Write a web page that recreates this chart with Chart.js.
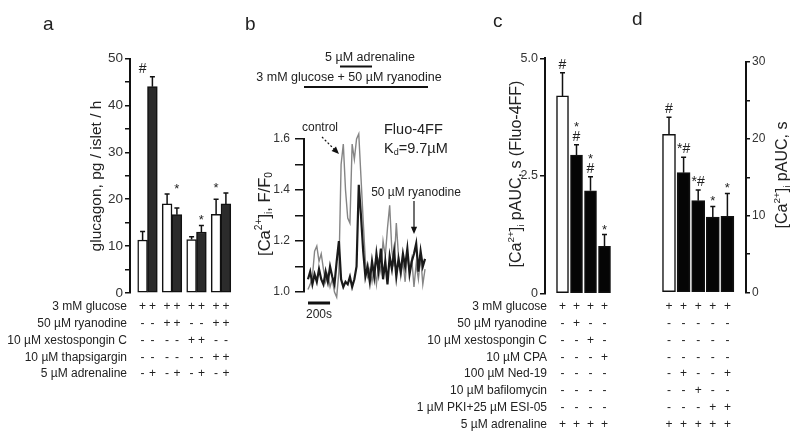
<!DOCTYPE html>
<html>
<head>
<meta charset="utf-8">
<script src="https://cdn.jsdelivr.net/npm/chart.js@4.4.1/dist/chart.umd.min.js"></script>
<style>
  body { margin: 0; background: #fff; }
  #wrap { position: relative; width: 800px; height: 440px; font-family: "Liberation Sans", Arial, sans-serif; }
  canvas { position: absolute; left: 0; top: 0; }
  .lbl { position: absolute; font-size: 19px; line-height: 1; color: #222; }
</style>
</head>
<body>
<div id="wrap">
  <canvas id="chartA" width="800" height="440"></canvas>
  <canvas id="chartB" width="800" height="440"></canvas>
  <canvas id="chartC" width="800" height="440"></canvas>
  <canvas id="chartD" width="800" height="440"></canvas>
  <span class="lbl" style="left:43px;top:14px">a</span>
  <span class="lbl" style="left:245px;top:14px">b</span>
  <span class="lbl" style="left:493px;top:11px">c</span>
  <span class="lbl" style="left:632px;top:9px">d</span>
</div>
<script>
// ---- data ----
// panel a: glucagon secretion, pairs of bars (white = no adrenaline, black = adrenaline)
const aWhite = [11.3, 19.0, 11.4, 16.8];
const aWhiteErr = [1.8, 2.1, 0.6, 3.2];
const aBlack = [44.0, 16.7, 13.0, 19.0];
const aBlackErr = [2.1, 1.4, 1.4, 2.3];
const aWhiteMarks = ['#', '', '', '*'];
const aBlackMarks = ['', '*', '*', ''];
const aRows = ['3 mM glucose', '50 µM ryanodine', '10 µM xestospongin C', '10 µM thapsigargin', '5 µM adrenaline'];
const aSigns = ['++++++++', '--++--++', '----++--', '------++', '-+-+-+-+'];

// panel b: [Ca2+]i traces
const bTime = [0, 20, 40, 60, 80, 100, 120, 140, 160, 180, 200, 220, 240, 260, 280, 300, 320, 340, 360, 380,
  400, 420, 440, 460, 480, 500, 520, 540, 560, 580, 600, 620, 640, 660, 680, 700, 720, 740, 760, 780,
  800, 820, 840, 860, 880, 900, 920, 940, 960, 980, 1000, 1020, 1040, 1060];
const bControl = [1.01, 1.03, 1.06, 1.16, 1.18, 1.12, 1.15, 1.09, 1.04, 1.07, 1.02, 1.05, 1.00, 0.98, 1.08, 1.50, 1.58, 1.40, 1.29, 1.27,
  1.58, 1.52, 1.60, 1.62, 1.45, 1.28, 1.12, 1.06, 1.09, 1.04, 1.10, 1.03, 1.12, 1.08, 1.20, 1.14, 1.25, 1.34, 1.16, 1.10,
  1.27, 1.14, 1.06, 1.12, 1.04, 1.15, 1.08, 1.13, 1.02, 1.11, 1.05, 1.14, 1.03, 1.09];
const bRyanodine = [1.05, 1.08, 1.03, 1.07, 1.04, 1.09, 1.05, 1.03, 1.08, 1.04, 1.10, 1.06, 1.03, 1.12, 1.20, 1.05, 1.02, 1.04, 1.03, 1.06,
  1.02, 1.05, 1.10, 1.42, 1.30, 1.16, 1.06, 1.10, 1.04, 1.12, 1.06, 1.15, 1.08, 1.17, 1.05, 1.12, 1.03, 1.14, 1.09, 1.16,
  1.06, 1.13, 1.08, 1.15, 1.10, 1.17, 1.07, 1.12, 1.15, 1.19, 1.08, 1.16, 1.10, 1.13];
const bAdrenaline = [290, 580];
const bScaleBar = [0, 200];

// panels c and d: pAUC
const cValues = [4.2, 2.94, 2.18, 1.0];
const cErr = [0.49, 0.22, 0.30, 0.25];
const cMarks = ['#', '*#', '*#', '*'];
const cdRows = ['3 mM glucose', '50 µM ryanodine', '10 µM xestospongin C', '10 µM CPA', '100 µM Ned-19',
  '10 µM bafilomycin', '1 µM PKI+25 µM ESI-05', '5 µM adrenaline'];
const cSigns = ['++++', '-+--', '--+-', '---+', '----', '----', '----', '++++'];

const dValues = [20.6, 15.6, 11.95, 9.8, 9.9];
const dErr = [2.2, 2.0, 1.4, 1.4, 3.0];
const dMarks = ['#', '*#', '*#', '*', '*'];
const dSigns = ['+++++', '-----', '-----', '-----', '-+--+', '--+--', '---++', '+++++'];

// ---- helpers ----
const INK = '#111';
const FONT = '"Liberation Sans", Arial, sans-serif';
const CA = [['[Ca'], ['2+', 'sup'], [']'], ['i', 'sub']];

function rich(ctx, x, y, parts, size, rot) {
  ctx.save();
  ctx.translate(x, y);
  ctx.rotate(rot || 0);
  let w = 0;
  const m = parts.map(p => {
    const s = p[1] ? size * 0.62 : size;
    ctx.font = s + 'px ' + FONT;
    const pw = ctx.measureText(p[0]).width;
    w += pw;
    return [p[0], p[1], s, pw];
  });
  let cx = -w / 2;
  ctx.textAlign = 'left';
  ctx.textBaseline = 'middle';
  m.forEach(p => {
    ctx.font = p[2] + 'px ' + FONT;
    const dy = p[1] === 'sup' ? -size * 0.36 : p[1] === 'sub' ? size * 0.28 : 0;
    ctx.fillText(p[0], cx, dy);
    cx += p[3];
  });
  ctx.restore();
}

function errTop(chart, d, i) {
  const ds = chart.data.datasets[d];
  return chart.scales.y.getPixelForValue(ds.data[i].y + ds.errorBars[i]);
}

function drawMarks(chart, mode) {
  const ctx = chart.ctx;
  chart.data.datasets.forEach((ds, d) => {
    if (!ds.marks) return;
    const meta = chart.getDatasetMeta(d);
    ds.marks.forEach((m, i) => {
      if (!m) return;
      const x = meta.data[i].x;
      const base = mode === 'pair'
        ? Math.min(...chart.data.datasets.map((_, k) => errTop(chart, k, i)))
        : errTop(chart, d, i);
      const chars = mode === 'stack' ? m.split('').reverse() : [m];
      let y = base;
      ctx.textAlign = 'center';
      ctx.textBaseline = 'alphabetic';
      chars.forEach(c => {
        const star = c === '*';
        ctx.font = (star ? 13 : 14) + 'px ' + FONT;
        ctx.fillText(c, x, star ? y - 1 : y - 4);
        y -= star ? 9 : 13;
      });
    });
  });
}

function drawTable(chart, t) {
  const ctx = chart.ctx;
  const xs = [];
  chart.data.datasets.forEach((ds, d) => chart.getDatasetMeta(d).data.forEach(el => xs.push(el.x)));
  xs.sort((p, q) => p - q);
  ctx.font = '12px ' + FONT;
  ctx.textBaseline = 'middle';
  t.signs.forEach((row, r) => {
    const y = 307 + r * 16.75;
    if (t.labels) {
      ctx.textAlign = 'right';
      ctx.fillText(t.labels[r], t.labelRight, y);
    }
    ctx.textAlign = 'center';
    row.split('').forEach((s, i) => ctx.fillText(s, xs[i], y));
  });
}

function panelPlugin(cfg) {
  return {
    id: 'panel',
    afterDatasetsDraw(chart) {
      const ctx = chart.ctx;
      ctx.save();
      ctx.strokeStyle = INK;
      ctx.lineWidth = 1.5;
      chart.data.datasets.forEach((ds, d) => {
        if (!ds.errorBars) return;
        chart.getDatasetMeta(d).data.forEach((bar, i) => {
          const top = errTop(chart, d, i);
          ctx.beginPath();
          ctx.moveTo(bar.x, bar.y);
          ctx.lineTo(bar.x, top);
          ctx.moveTo(bar.x - 2.5, top);
          ctx.lineTo(bar.x + 2.5, top);
          ctx.stroke();
        });
      });
      ctx.restore();
    },
    afterDraw(chart) {
      const ctx = chart.ctx;
      ctx.save();
      ctx.fillStyle = '#222';
      if (cfg.title) rich(ctx, cfg.title.x, cfg.title.y, cfg.title.parts, cfg.title.size, -Math.PI / 2);
      if (cfg.marks) drawMarks(chart, cfg.marks);
      if (cfg.table) drawTable(chart, cfg.table);
      if (cfg.extra) cfg.extra(chart, ctx);
      ctx.restore();
    }
  };
}

function yAxis(o) {
  return {
    position: o.pos || 'left',
    min: o.min,
    max: o.max,
    afterFit: s => { s.width = o.width; },
    border: { display: true, color: INK, width: 2 },
    grid: { drawOnChartArea: false, drawTicks: true, tickLength: o.tickLen, color: INK, tickColor: INK, lineWidth: 1.5 },
    ticks: {
      stepSize: o.step, padding: o.pad, color: '#333', autoSkip: false,
      font: { family: FONT, size: o.size },
      callback: o.label
    }
  };
}

function hiddenX(min, max) {
  return { type: 'linear', display: false, min: min, max: max, offset: false, grid: { offset: false } };
}

function points(values) {
  return values.map((v, i) => ({ x: i + 1, y: v }));
}

const common = {
  responsive: false,
  animation: false,
  events: [],
  plugins: { legend: { display: false }, tooltip: { enabled: false } }
};

// ---- panel a ----
new Chart(document.getElementById('chartA'), {
  type: 'bar',
  data: {
    datasets: [
      { data: points(aWhite), errorBars: aWhiteErr, marks: aWhiteMarks, backgroundColor: '#fff',
        borderColor: INK, borderWidth: 1.5, borderSkipped: false, barThickness: 9.8 },
      { data: points(aBlack), errorBars: aBlackErr, marks: aBlackMarks, backgroundColor: '#2b2b2b',
        borderColor: INK, borderWidth: 1.5, borderSkipped: false, barThickness: 9.8 }
    ]
  },
  options: {
    ...common,
    layout: { padding: { left: 90, top: 58.5, right: 564, bottom: 147 } },
    scales: {
      x: hiddenX(0.2857, 4.612),
      y: yAxis({ min: 0, max: 50, step: 5, width: 40, tickLen: 5, pad: 2, size: 13.5,
        label: v => (v % 10 === 0 ? String(v) : '') })
    }
  },
  plugins: [panelPlugin({
    title: { x: 97, y: 176, size: 15.5, parts: [['glucagon, pg / islet / h']] },
    marks: 'pair',
    table: { labels: aRows, signs: aSigns, labelRight: 127 }
  })]
});

// ---- panel b ----
function arrow(ctx, x1, y1, x2, y2, dash) {
  const a = Math.atan2(y2 - y1, x2 - x1);
  ctx.save();
  ctx.strokeStyle = INK;
  ctx.lineWidth = 1.2;
  if (dash) ctx.setLineDash([2, 2]);
  ctx.beginPath();
  ctx.moveTo(x1, y1);
  ctx.lineTo(x2 - 6 * Math.cos(a), y2 - 6 * Math.sin(a));
  ctx.stroke();
  ctx.setLineDash([]);
  ctx.fillStyle = INK;
  ctx.beginPath();
  ctx.moveTo(x2, y2);
  ctx.lineTo(x2 - 8 * Math.cos(a - 0.4), y2 - 8 * Math.sin(a - 0.4));
  ctx.lineTo(x2 - 8 * Math.cos(a + 0.4), y2 - 8 * Math.sin(a + 0.4));
  ctx.closePath();
  ctx.fill();
  ctx.restore();
}

function bNotes(chart, ctx) {
  const xs = chart.scales.x;
  ctx.strokeStyle = INK;
  ctx.fillStyle = '#222';
  ctx.textBaseline = 'middle';
  ctx.textAlign = 'center';
  ctx.font = '12.5px ' + FONT;
  ctx.fillText('5 µM adrenaline', 370, 58);
  ctx.fillText('3 mM glucose + 50 µM ryanodine', 349, 78);
  ctx.lineWidth = 2;
  ctx.beginPath();
  ctx.moveTo(xs.getPixelForValue(bAdrenaline[0]), 66.5);
  ctx.lineTo(xs.getPixelForValue(bAdrenaline[1]), 66.5);
  ctx.moveTo(xs.left, 87);
  ctx.lineTo(xs.right, 87);
  ctx.stroke();
  // scale bar
  ctx.lineWidth = 3;
  ctx.beginPath();
  ctx.moveTo(xs.getPixelForValue(bScaleBar[0]), 303);
  ctx.lineTo(xs.getPixelForValue(bScaleBar[1]), 303);
  ctx.stroke();
  ctx.font = '12px ' + FONT;
  ctx.fillText('200s', 319, 315);
  ctx.fillText('control', 320, 128);
  ctx.fillText('50 µM ryanodine', 416, 193);
  ctx.textAlign = 'left';
  ctx.font = '14.5px ' + FONT;
  ctx.fillText('Fluo-4FF', 384, 130);
  ctx.fillText('K', 384, 149);
  const kw = ctx.measureText('K').width;
  ctx.font = '9px ' + FONT;
  ctx.fillText('d', 384 + kw, 153);
  const dw = ctx.measureText('d').width;
  ctx.font = '14.5px ' + FONT;
  ctx.fillText('=9.7µM', 384 + kw + dw, 149);
  arrow(ctx, 322, 137, 339, 154, true);
  arrow(ctx, 414, 201, 414, 234, false);
}

new Chart(document.getElementById('chartB'), {
  type: 'line',
  data: {
    datasets: [
      { data: bTime.map((t, i) => ({ x: t, y: bRyanodine[i] })), borderColor: '#1a1a1a', borderWidth: 2.2,
        pointRadius: 0, tension: 0, clip: 8 },
      { data: bTime.map((t, i) => ({ x: t, y: bControl[i] })), borderColor: '#858585', borderWidth: 1.4,
        pointRadius: 0, tension: 0, clip: 8 }
    ]
  },
  options: {
    ...common,
    layout: { padding: { left: 264, top: 139, right: 372, bottom: 148 } },
    scales: {
      x: { type: 'linear', display: false, min: -36, max: 1087 },
      y: yAxis({ min: 1.0, max: 1.6, step: 0.1, width: 40, tickLen: 9, pad: 5, size: 12,
        label: v => (Math.round(v * 10) % 2 === 0 ? v.toFixed(1) : '') })
    }
  },
  plugins: [panelPlugin({
    title: { x: 265, y: 214, size: 16.5, parts: CA.concat([[', F/F'], ['0', 'sub']]) },
    extra: bNotes
  })]
});

// ---- panel c ----
new Chart(document.getElementById('chartC'), {
  type: 'bar',
  data: {
    datasets: [
      { data: points(cValues), errorBars: cErr, marks: cMarks, backgroundColor: ['#fff', '#050505', '#050505', '#050505'],
        borderColor: INK, borderWidth: 1.5, borderSkipped: false, barThickness: 12 }
    ]
  },
  options: {
    ...common,
    layout: { padding: { left: 505, top: 58.3, right: 185, bottom: 146.7 } },
    scales: {
      x: hiddenX(-0.25, 4.75),
      y: yAxis({ min: 0, max: 5, step: 2.5, width: 40, tickLen: 5, pad: 2, size: 12.5,
        label: v => (v === 0 ? '0' : v.toFixed(1)) })
    }
  },
  plugins: [panelPlugin({
    title: { x: 517, y: 174, size: 16, parts: CA.concat([[' pAUC, s (Fluo-4FF)']]) },
    marks: 'stack',
    table: { labels: cdRows, signs: cSigns, labelRight: 547 }
  })]
});

// ---- panel d ----
new Chart(document.getElementById('chartD'), {
  type: 'bar',
  data: {
    datasets: [
      { data: points(dValues), errorBars: dErr, marks: dMarks, backgroundColor: ['#fff', '#050505', '#050505', '#050505', '#050505'],
        borderColor: INK, borderWidth: 1.5, borderSkipped: false, barThickness: 13 }
    ]
  },
  options: {
    ...common,
    layout: { padding: { left: 650, top: 62, right: 24, bottom: 147.5 } },
    scales: {
      x: hiddenX(-0.301, 6.274),
      y: yAxis({ pos: 'right', min: 0, max: 30, step: 5, width: 30, tickLen: 4, pad: 2, size: 12,
        label: v => (v % 10 === 0 ? String(v) : '') })
    }
  },
  plugins: [panelPlugin({
    title: { x: 783, y: 175, size: 16, parts: CA.concat([[' pAUC, s']]) },
    marks: 'inline',
    table: { signs: dSigns }
  })]
});
</script>
</body>
</html>
